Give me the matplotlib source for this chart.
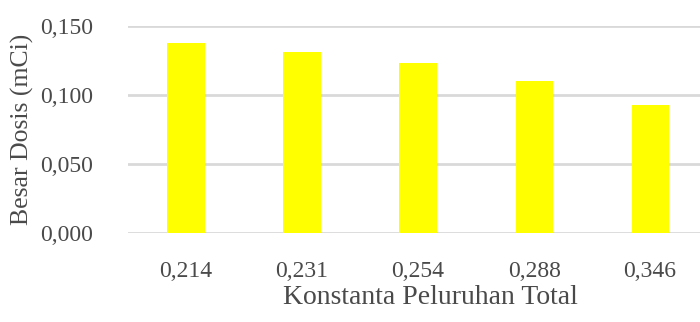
import matplotlib

matplotlib.use("Agg")
import matplotlib.pyplot as plt

# decay constant (category) vs dose
konstanta = ["0,214", "0,231", "0,254", "0,288", "0,346"]
dosis = [0.138, 0.131, 0.123, 0.110, 0.093]
yticks = [0.0, 0.05, 0.10, 0.15]
ylabels = ["0,000", "0,050", "0,100", "0,150"]

TXT = "#4a4a4a"
plt.rcParams["font.family"] = ["Liberation Serif", "DejaVu Serif"]

fig = plt.figure(figsize=(7.0, 3.22), dpi=100)
ax = fig.add_axes([128 / 700, 1 - 233 / 322, 1 - 128 / 700, (233 - 26) / 322])

x = range(len(konstanta))
ax.bar(x, dosis, width=0.32, color="#ffff00", zorder=3)

ax.set_ylim(0, 0.15)
ax.set_xlim(-0.5, 4.43)
ax.set_yticks(yticks)
ax.set_yticklabels(ylabels)
ax.set_xticks(list(x))
ax.set_xticklabels(konstanta)
ax.yaxis.grid(True, color="#d9d9d9", lw=2, zorder=0)
ax.set_axisbelow(True)
for s in ax.spines.values():
    s.set_visible(False)
ax.tick_params(length=0, labelsize=17, colors=TXT)
ax.tick_params(axis="x", pad=20)
ax.tick_params(axis="y", pad=25)

ax.set_ylabel("Besar Dosis (mCi)", fontsize=18.5, color=TXT)
ax.set_xlabel("Konstanta Peluruhan Total", fontsize=20, color=TXT)
ax.yaxis.set_label_coords(-94 / 572, 0.5)
ax.xaxis.set_label_coords(302 / 572, -52 / 207)

fig.savefig("out.png", dpi=100)
